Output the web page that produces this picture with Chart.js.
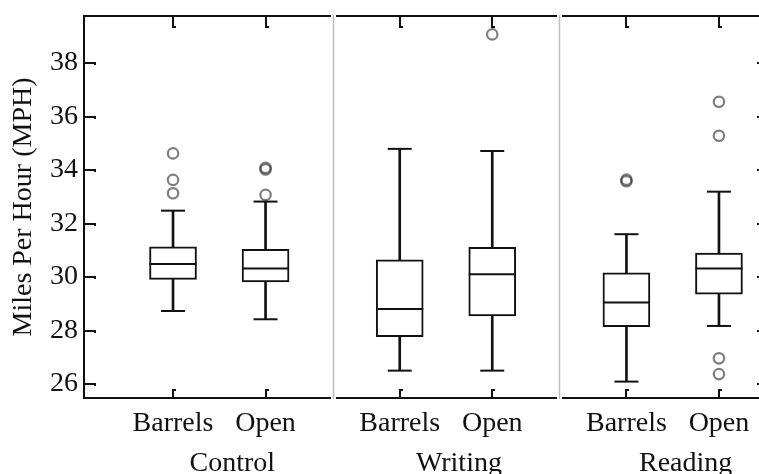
<!DOCTYPE html>
<html>
<head>
<meta charset="utf-8">
<script src="https://cdn.jsdelivr.net/npm/chart.js@4/dist/chart.umd.min.js"></script>
<style>
  html, body { margin: 0; padding: 0; background: #fff; overflow: hidden; width: 759px; height: 474px; }
  #wrap { position: relative; width: 759px; height: 474px; overflow: hidden; }
  #c { position: absolute; left: 0; top: 0; }
</style>
</head>
<body>
<div id="wrap"><canvas id="c" width="776" height="474"></canvas></div>
<script>
// Speed (MPH) by road treatment within each task condition
const GROUPS = ['Control', 'Writing', 'Reading'];
const CATEGORIES = ['Barrels', 'Open'];
const Y_TICKS = [26, 28, 30, 32, 34, 36, 38];

// One entry per box, ordered Control-Barrels, Control-Open, Writing-Barrels, ...
const LOWER_WHISKER = [28.73, 28.42, 26.50, 26.50, 26.09, 28.17];
const Q1            = [29.91, 29.82, 27.77, 28.55, 28.14, 29.36];
const MEDIAN        = [30.49, 30.32, 28.80, 30.10, 29.05, 30.32];
const Q3            = [31.13, 31.03, 30.64, 31.11, 30.16, 30.89];
const UPPER_WHISKER = [32.48, 32.82, 34.79, 34.71, 31.60, 33.19];
const OUTLIERS = [
  [33.13, 33.63, 34.62],
  [33.07, 34.02, 34.08],
  [],
  [39.07],
  [33.58, 33.64],
  [26.37, 26.96, 35.28, 36.55]
];

// Layout of the x axis: boxes one unit apart, groups GROUP_STEP apart
const GROUP_STEP = 2.45;
const X_MIN = -0.962, X_MAX = 6.43;
const GROUP_LABEL_SHIFT = 0.14;
const Y_MIN = 25.477, Y_MAX = 39.757;

const INK = '#111';
const FONT = { family: '"Liberation Serif", "Times New Roman", serif', size: 28 };

const boxPos = i => Math.floor(i / CATEGORIES.length) * GROUP_STEP + (i % CATEGORIES.length);
const nBoxes = MEDIAN.length;
const idx = [...Array(nBoxes).keys()];
const boxTicks = idx.map(boxPos);
const groupTicks = GROUPS.map((g, k) => k * GROUP_STEP + (CATEGORIES.length - 1) / 2 + GROUP_LABEL_SHIFT);

const outlierPts = [];
idx.forEach(i => OUTLIERS[i].forEach(v => outlierPts.push({ x: boxPos(i), y: v })));

// Fixed axis sizes; labels may overhang the plot edges without shrinking it
const fixSize = (w, h) => s => {
  if (w !== null) s.width = w;
  if (h !== null) s.height = h;
  s.paddingLeft = s.paddingRight = s.paddingTop = s.paddingBottom = 0;
};

// Frame, inward tick marks and the grey group separators
const framePlugin = {
  id: 'frame',
  beforeDatasetsDraw(chart) {
    const { ctx, chartArea: a, scales } = chart;
    const x = scales.x, y = scales.y;
    ctx.save();
    ctx.lineCap = 'butt';
    ctx.strokeStyle = INK;
    ctx.lineWidth = 2;
    ctx.strokeRect(a.left, a.top, a.right - a.left, a.bottom - a.top);

    for (let g = 1; g < GROUPS.length; g++) {
      const xv = (g - 1) * GROUP_STEP + (CATEGORIES.length - 1) + (GROUP_STEP - (CATEGORIES.length - 1)) / 2;
      const px = Math.round(x.getPixelForValue(xv)) + 0.5;
      ctx.strokeStyle = '#fff';
      ctx.lineWidth = 5;
      ctx.beginPath(); ctx.moveTo(px, a.top - 2); ctx.lineTo(px, a.bottom + 2); ctx.stroke();
      ctx.strokeStyle = '#bdbdbd';
      ctx.lineWidth = 1.5;
      ctx.beginPath(); ctx.moveTo(px, a.top - 1); ctx.lineTo(px, a.bottom + 1); ctx.stroke();
    }

    ctx.strokeStyle = INK;
    ctx.lineWidth = 2;
    y.ticks.forEach(t => {
      const py = Math.round(y.getPixelForValue(t.value));
      ctx.beginPath();
      ctx.moveTo(a.left, py); ctx.lineTo(a.left + 11, py); ctx.lineTo(a.left + 11, py + 2);
      ctx.moveTo(a.right, py); ctx.lineTo(a.right - 11, py);
      ctx.stroke();
    });
    boxTicks.forEach(v => {
      const px = Math.round(x.getPixelForValue(v));
      ctx.beginPath();
      ctx.moveTo(px, a.top); ctx.lineTo(px, a.top + 11); ctx.lineTo(px + 3, a.top + 11);
      ctx.moveTo(px, a.bottom); ctx.lineTo(px, a.bottom - 8); ctx.lineTo(px + 3, a.bottom - 8);
      ctx.stroke();
    });
    ctx.restore();
  }
};

new Chart(document.getElementById('c'), {
  type: 'bar',
  data: {
    datasets: [
      {
        label: 'upper whisker',
        data: idx.map(i => ({ x: boxPos(i), y: [Q3[i], UPPER_WHISKER[i]] })),
        backgroundColor: INK, borderWidth: 0, barThickness: 2, grouped: false, order: 5
      },
      {
        label: 'lower whisker',
        data: idx.map(i => ({ x: boxPos(i), y: [LOWER_WHISKER[i], Q1[i]] })),
        backgroundColor: INK, borderWidth: 0, barThickness: 2, grouped: false, order: 5
      },
      {
        label: 'box',
        data: idx.map(i => ({ x: boxPos(i), y: [Q1[i], Q3[i]] })),
        backgroundColor: '#fff', borderColor: INK, borderWidth: 2, borderSkipped: false,
        barThickness: 47, grouped: false, order: 4
      },
      {
        type: 'scatter', label: 'median',
        data: idx.map(i => ({ x: boxPos(i), y: MEDIAN[i] })),
        pointStyle: 'line', pointRadius: 23.5, borderColor: INK, borderWidth: 2, order: 1
      },
      {
        type: 'scatter', label: 'caps',
        data: idx.flatMap(i => [{ x: boxPos(i), y: UPPER_WHISKER[i] }, { x: boxPos(i), y: LOWER_WHISKER[i] }]),
        pointStyle: 'line', pointRadius: 12, borderColor: INK, borderWidth: 2, order: 1
      },
      {
        type: 'scatter', label: 'outliers',
        data: outlierPts,
        pointStyle: 'circle', pointRadius: 5.2, borderColor: 'rgba(40,40,40,0.6)',
        backgroundColor: 'rgba(0,0,0,0)', borderWidth: 2.2, order: 0
      }
    ]
  },
  options: {
    responsive: false,
    animation: false,
    events: [],
    layout: { autoPadding: false, padding: { left: 0, top: 16, right: 8, bottom: 0 } },
    plugins: { legend: { display: false }, tooltip: { enabled: false } },
    scales: {
      x: {
        type: 'linear', position: 'bottom', min: X_MIN, max: X_MAX, offset: false, weight: 0,
        grid: { display: false, drawTicks: false }, border: { display: false },
        afterBuildTicks: s => { s.ticks = boxTicks.map(v => ({ value: v })); },
        afterFit: fixSize(null, 41),
        ticks: {
          autoSkip: false, maxRotation: 0, minRotation: 0, padding: 9,
          color: INK, font: FONT,
          callback: (v, k) => CATEGORIES[k % CATEGORIES.length]
        }
      },
      xg: {
        type: 'linear', position: 'bottom', min: X_MIN, max: X_MAX, offset: false, weight: 1,
        grid: { display: false, drawTicks: false }, border: { display: false },
        afterBuildTicks: s => { s.ticks = groupTicks.map(v => ({ value: v })); },
        afterFit: fixSize(null, 35),
        ticks: {
          autoSkip: false, maxRotation: 0, minRotation: 0, padding: 8,
          color: INK, font: FONT,
          callback: (v, k) => GROUPS[k]
        }
      },
      y: {
        type: 'linear', position: 'left', min: Y_MIN, max: Y_MAX,
        grid: { display: false, drawTicks: false }, border: { display: false },
        afterBuildTicks: s => { s.ticks = Y_TICKS.map(v => ({ value: v })); },
        afterFit: fixSize(84, null),
        ticks: { padding: 6, color: INK, font: FONT },
        title: {
          display: true, text: 'Miles Per Hour (MPH)', color: INK, font: FONT,
          padding: { top: 7, bottom: 0 }
        }
      }
    }
  },
  plugins: [framePlugin]
});
</script>
</body>
</html>
